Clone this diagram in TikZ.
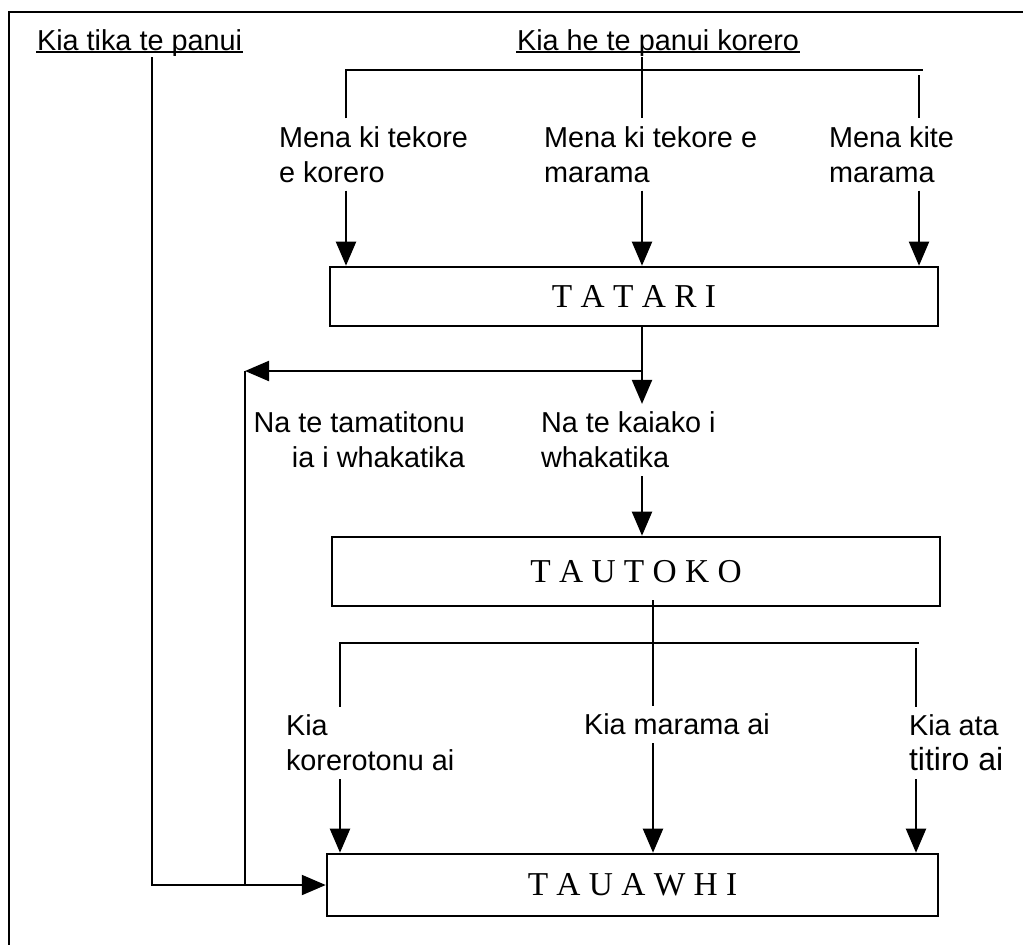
\documentclass[tikz,border=0pt]{standalone}
\usepackage{fontspec}
\setmainfont{Liberation Sans}
\newfontfamily\boxfont{Liberation Serif}
\usetikzlibrary{arrows.meta, positioning, calc}
\tikzset{
  stagebox/.style={rectangle, draw=black, line width=1.5pt, minimum width=#1,
                   align=center, font=\boxfont\fontsize{19}{22}\selectfont},
  stagebox/.default=12.16cm,
  lbl/.style={inner xsep=0pt, inner ysep=0.14cm, align=left,
              font=\fontsize{16.4}{19.9}\selectfont},
  ttl/.style={inner sep=0pt, font=\fontsize{16.4}{19.9}\selectfont},
  arr/.style={-{Triangle[length=0.48cm, width=0.4cm]}, #1},
  arr/.default=black,
}

\begin{document}
\begin{tikzpicture}[x=0.02cm, y=-0.02cm, line width=1.2pt]
  \useasboundingbox (0,0) rectangle (1023,944);
  % Frame (cut off on the right and bottom)
  \draw[line width=1.4pt] (9,980) -- (9,12) -- (1060,12);

  % Headings
  \node[ttl, anchor=base west] (tika) at (36,50) {Kia tika te panui};
  \node[ttl, anchor=base west] (kiahe) at (516,50) {Kia he te panui korero};
  \draw[line width=1pt] ([yshift=-0.04cm]tika.base west) -- ([yshift=-0.04cm]tika.base east);
  \draw[line width=1pt] ([yshift=-0.04cm]kiahe.base west) -- ([yshift=-0.04cm]kiahe.base east);

  % Boxes
  \node[stagebox, minimum height=1.18cm] (tatari) at (634,296.5) {T A T A R I};
  \node[stagebox, minimum height=1.38cm] (tautoko) at (636,571.5) {T A U T O K O};
  \node[stagebox=12.22cm, minimum height=1.24cm] (tauawhi) at (632.5,885) {T A U A W H I};

  % Labels
  \node[lbl, anchor=west] (mena1) at (278,154.5) {Mena ki tekore\\e korero};
  \node[lbl, anchor=west] (mena2) at (543,154.5) {Mena ki tekore e\\marama};
  \node[lbl, anchor=west] (mena3) at (828,154.5) {Mena kite\\marama};
  \node[lbl, anchor=east, align=right] (natama) at (466,440) {Na te tamatitonu\\ia i whakatika};
  \node[lbl, anchor=west] (nakaiako) at (540,440) {Na te kaiako i\\whakatika};
  \node[lbl, anchor=west] (kiakor) at (285,743) {Kia\\korerotonu ai};
  \node[lbl, anchor=west] (kiamar) at (583,724.5) {Kia marama ai};
  \node[lbl, anchor=west] (kiaata) at (908,743) {Kia ata\\{\fontsize{18.2}{19.9}\selectfont titiro ai}};

  % Junction points
  \coordinate (leftx) at (152,0);
  \coordinate (barTL) at (346,70);
  \coordinate (barTR) at (923,70);
  \coordinate (midT) at (642,0);
  \coordinate (dropTR) at (919,75);
  \coordinate (split) at (642,371);
  \coordinate (back) at (245,371);
  \coordinate (midB) at (653,600);
  \coordinate (barBL) at (340,643);
  \coordinate (barBR) at (919,643);
  \coordinate (dropBR) at (916,648);

  % Top branches
  \draw (kiahe.south -| midT) -- (mena2.north -| midT);
  \draw (mena1.north -| barTL) -- (barTL) -- (barTR);
  \draw (dropTR) -- (mena3.north -| dropTR);
  \draw[arr] (mena1.south -| barTL) -- (tatari.north -| barTL);
  \draw[arr] (mena2.south -| midT) -- (tatari.north -| midT);
  \draw[arr] (mena3.south -| dropTR) -- (tatari.north -| dropTR);

  % Middle
  \draw (tatari.south -| split) -- (split);
  \draw[arr] (split) -- (nakaiako.north -| split);
  \draw[arr] (split) -- (back);
  \draw (back) -- (back |- tauawhi.west);
  \draw[arr] (nakaiako.south -| split) -- (tautoko.north -| split);

  % Bottom branches
  \draw (midB) -- (kiamar.north -| midB);
  \draw (kiakor.north -| barBL) -- (barBL) -- (barBR);
  \draw (dropBR) -- (kiaata.north -| dropBR);
  \draw[arr] (kiakor.south -| barBL) -- (tauawhi.north -| barBL);
  \draw[arr] (kiamar.south -| midB) -- (tauawhi.north -| midB);
  \draw[arr] (kiaata.south -| dropBR) -- (tauawhi.north -| dropBR);

  % Left return line
  \draw[arr] (tika.south -| leftx) |- (tauawhi.west);
\end{tikzpicture}
\end{document}
